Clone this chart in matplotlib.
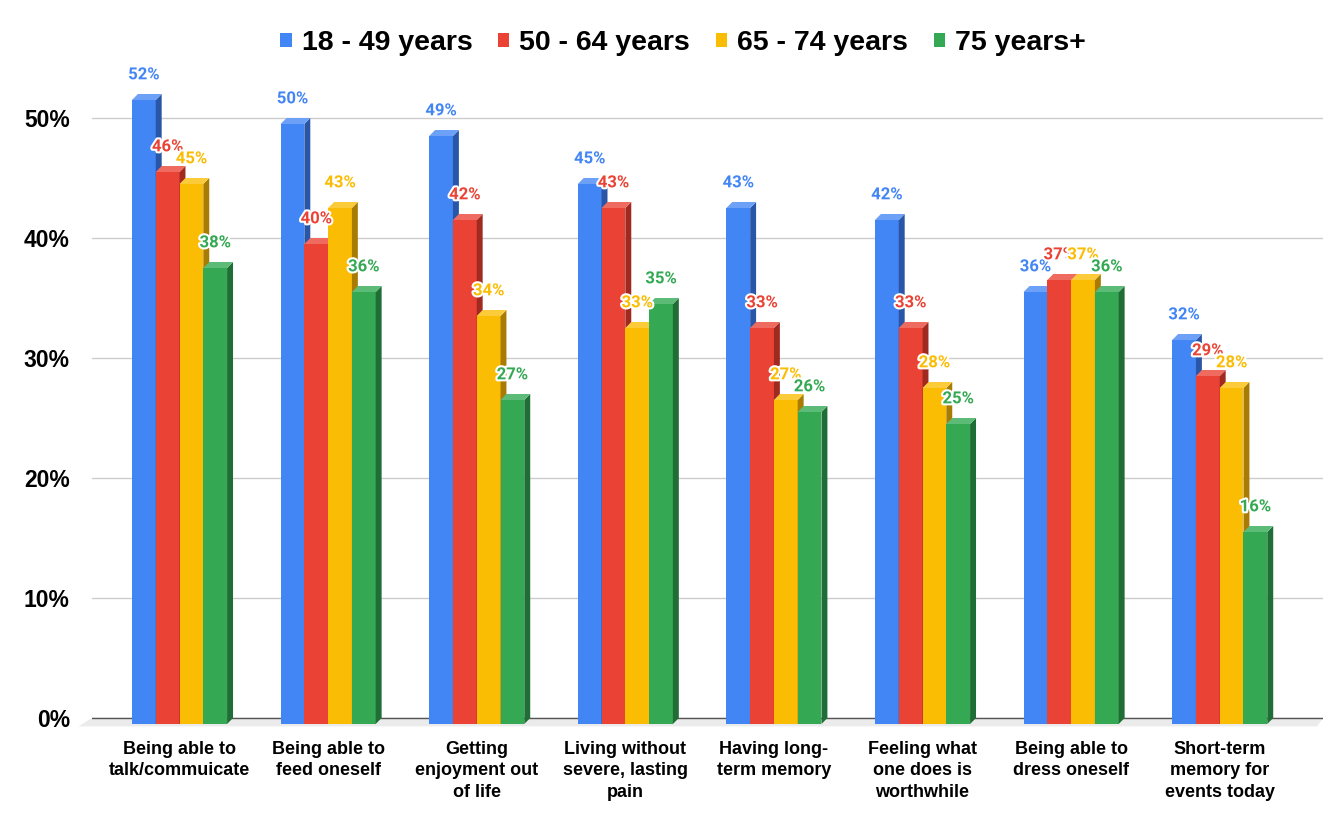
import numpy as np
import matplotlib.pyplot as plt
from matplotlib.patches import Polygon, Rectangle
import matplotlib.patheffects as pe

categories = ['Being able to\ntalk/commuicate', 'Being able to\nfeed oneself',
              'Getting\nenjoyment out\nof life', 'Living without\nsevere, lasting\npain',
              'Having long-\nterm memory', 'Feeling what\none does is\nworthwhile',
              'Being able to\ndress oneself', 'Short-term\nmemory for\nevents today']
series = ['18 - 49 years', '50 - 64 years', '65 - 74 years', '75 years+']
v_18_49 = [52, 50, 49, 45, 43, 42, 36, 32]
v_50_64 = [46, 40, 42, 43, 33, 33, 37, 29]
v_65_74 = [45, 43, 34, 33, 27, 28, 37, 28]
v_75 = [38, 36, 27, 35, 26, 25, 36, 16]
values = [v_18_49, v_50_64, v_65_74, v_75]

front = ['#4285F4', '#EA4335', '#FBBC04', '#34A853']
side = ['#2A56A8', '#A12A20', '#A87C02', '#1F6E36']
top = ['#6DA1F7', '#EF6B60', '#FCCB3A', '#5DBB78']

fig = plt.figure(figsize=(13.41, 8.22), dpi=100)
ax = fig.add_axes([92/1341, 92/822, (1323-92)/1341, 672/822])
ax.set_xlim(-0.589, 7.695)
ax.set_ylim(-1, 55)

w = 0.16
dx = 0.04
dy = 0.5

for s in range(4):
    for i, v in enumerate(values[s]):
        x0 = i - 2*w + s*w
        z = 3 + s
        ax.add_patch(Rectangle((x0, -dy), w, v, facecolor=front[s], edgecolor='none', zorder=z))
        ax.add_patch(Polygon([(x0+w, -dy), (x0+w+dx, 0), (x0+w+dx, v), (x0+w, v-dy)],
                             closed=True, facecolor=side[s], edgecolor='none', zorder=z))
        ax.add_patch(Polygon([(x0, v-dy), (x0+dx, v), (x0+w+dx, v), (x0+w, v-dy)],
                             closed=True, facecolor=top[s], edgecolor='none', zorder=z))
        ax.text(x0 + w/2, v + 1.6, f'{v}%', ha='center', va='center', color=front[s],
                fontsize=12, fontweight='bold', family='Roboto', zorder=10,
                path_effects=[pe.withStroke(linewidth=3, foreground='white')])

# floor and baseline
ax.add_patch(Polygon([(-0.589, 0), (7.695, 0), (7.695 - dx, -0.7), (-0.68, -0.7)],
                     closed=True, facecolor='#ebebeb', edgecolor='none', zorder=1, clip_on=False))
ax.plot([-0.589, 7.695], [0, 0], color='#555555', lw=1, zorder=2)

ax.set_yticks(range(0, 51, 10))
ax.set_yticklabels([f'{t}%' for t in range(0, 51, 10)])
ax.yaxis.grid(True, color='#cccccc', lw=1)
ax.set_axisbelow(True)
ax.tick_params(axis='y', length=0, pad=16, labelsize=16.5)
for lab in ax.get_yticklabels():
    lab.set_fontweight('bold')
    lab.set_family('Liberation Sans')

ax.set_xticks(range(len(categories)))
ax.set_xticklabels(categories, fontsize=13, fontweight='bold', family='Liberation Sans',
                   linespacing=1.33)
ax.tick_params(axis='x', length=0, pad=8)

for sp in ax.spines.values():
    sp.set_visible(False)

# legend
handles = [Rectangle((0, 0), 1, 1, facecolor=c, edgecolor='none') for c in front]
leg = fig.legend(handles, series, loc='center', bbox_to_anchor=(683/1341, 1 - 43/822),
                 ncol=4, frameon=False, handlelength=0.4, handleheight=0.4,
                 handletextpad=0.35, columnspacing=0.9,
                 prop={'family': 'Liberation Sans', 'weight': 'bold', 'size': 20.5})

fig.savefig('out.png', dpi=100)
